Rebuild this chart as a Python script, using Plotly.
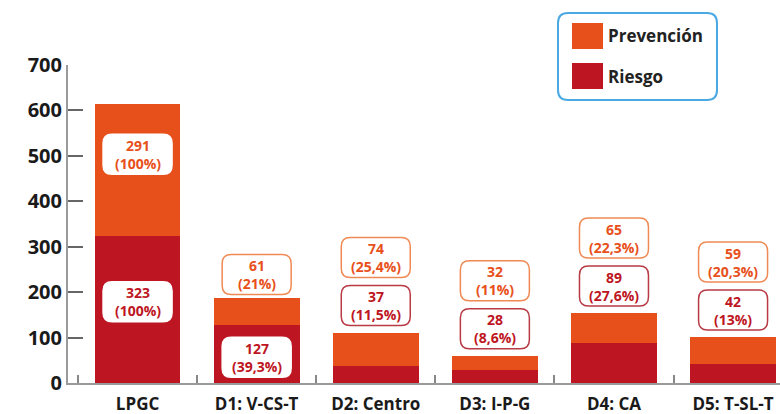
import plotly.graph_objects as go

categories = ["LPGC", "D1: V-CS-T", "D2: Centro", "D3: I-P-G", "D4: CA", "D5: T-SL-T"]
riesgo = [323, 127, 37, 28, 89, 42]
prevencion = [291, 61, 74, 32, 65, 59]
riesgo_pct = ["100%", "39,3%", "11,5%", "8,6%", "27,6%", "13%"]
prevencion_pct = ["100%", "21%", "25,4%", "11%", "22,3%", "20,3%"]

ORANGE = "#e8501b"
RED = "#bd1622"
ORANGE_BORDER = "#f08a55"
RED_BORDER = "#b83a44"
FONT = "Open Sans"


def rounded_box(w, h, r, cy=0, cx=0):
    x0, x1 = cx - w / 2, cx + w / 2
    y0, y1 = cy - h / 2, cy + h / 2
    return (f"M {x0 + r},{y0} L {x1 - r},{y0} Q {x1},{y0} {x1},{y0 + r} "
            f"L {x1},{y1 - r} Q {x1},{y1} {x1 - r},{y1} L {x0 + r},{y1} "
            f"Q {x0},{y1} {x0},{y1 - r} L {x0},{y0 + r} Q {x0},{y0} {x0 + r},{y0} Z")


fig = go.Figure()
fig.add_trace(go.Bar(x=categories, y=riesgo, name="Riesgo", width=0.72,
                     marker=dict(color=RED, line=dict(width=0))))
fig.add_trace(go.Bar(x=categories, y=prevencion, name="Prevención", width=0.72,
                     marker=dict(color=ORANGE, line=dict(width=0))))

shapes = []
annotations = []


def add_label(i, y, shift, text, color, border):
    shapes.append(dict(type="path", xref="x", yref="y", xsizemode="pixel", ysizemode="pixel",
                       xanchor=i, yanchor=y, path=rounded_box(69, 40, 9, cy=shift),
                       fillcolor="white", line=dict(color=border, width=1.5), layer="above"))
    annotations.append(dict(x=i, y=y, xref="x", yref="y", yshift=shift, showarrow=False,
                            text=text, align="center",
                            font=dict(family=FONT, size=14, color=color, weight="bold")))


for i in range(len(categories)):
    total = riesgo[i] + prevencion[i]
    r_txt = "{}<br>({})".format(riesgo[i], riesgo_pct[i])
    p_txt = "{}<br>({})".format(prevencion[i], prevencion_pct[i])
    if i == 0:
        add_label(i, riesgo[i] / 2, 8, r_txt, RED, "white")
        add_label(i, riesgo[i] + prevencion[i] / 2, 16, p_txt, ORANGE, "white")
    elif i == 1:
        add_label(i, riesgo[i] / 2, -3, r_txt, RED, "white")
        add_label(i, total, 23, p_txt, ORANGE, ORANGE_BORDER)
    else:
        add_label(i, total, 27, r_txt, RED, RED_BORDER)
        add_label(i, total, 75, p_txt, ORANGE, ORANGE_BORDER)

# legend box drawn by hand (rounded corners, big swatches)
shapes.append(dict(type="path", xref="paper", yref="paper", xsizemode="pixel", ysizemode="pixel",
                   xanchor=(637.5 - 68) / 712, yanchor=(383 - 56.5) / 318,
                   path=rounded_box(159, 87, 10), fillcolor="white",
                   line=dict(color="#4aa8e2", width=2)))
for name, color, ypx in [("Prevención", ORANGE, 36), ("Riesgo", RED, 76)]:
    shapes.append(dict(type="rect", xref="paper", yref="paper", xsizemode="pixel", ysizemode="pixel",
                       xanchor=(587.5 - 68) / 712, yanchor=(383 - ypx) / 318,
                       x0=-15.5, x1=15.5, y0=-13, y1=13, fillcolor=color, line=dict(width=0)))
    annotations.append(dict(x=(606 - 68) / 712, y=(383 - ypx) / 318, xref="paper", yref="paper",
                            xanchor="left", yanchor="middle", showarrow=False, text=name,
                            font=dict(family=FONT, size=17, color="#222", weight="bold")))

fig.update_layout(
    barmode="stack",
    width=780, height=414,
    margin=dict(l=68, r=0, t=65, b=31),
    paper_bgcolor="white", plot_bgcolor="white",
    showlegend=False,
    shapes=shapes,
    annotations=annotations,
    xaxis=dict(range=[-0.584, 5.394], showline=True, linecolor="#9a9a9a", linewidth=2,
               ticks="inside", tickson="boundaries", ticklen=8, tickcolor="#888", tickwidth=1.5,
               ticklabelstandoff=5, showgrid=False, automargin=False,
               tickfont=dict(family=FONT, size=17, color="#1a1a1a", weight="bold")),
    yaxis=dict(range=[0, 700], dtick=100, showline=True, linecolor="#9a9a9a", linewidth=2,
               ticks="inside", ticklen=15, tickwidth=2, tickcolor="#666",
               showgrid=False, zeroline=False, automargin=False,
               tickfont=dict(family=FONT, size=20, color="#1a1a1a", weight="bold")),
)

fig.write_html("out.html", config={"displayModeBar": False},
               post_script="document.body.style.margin='0';")
